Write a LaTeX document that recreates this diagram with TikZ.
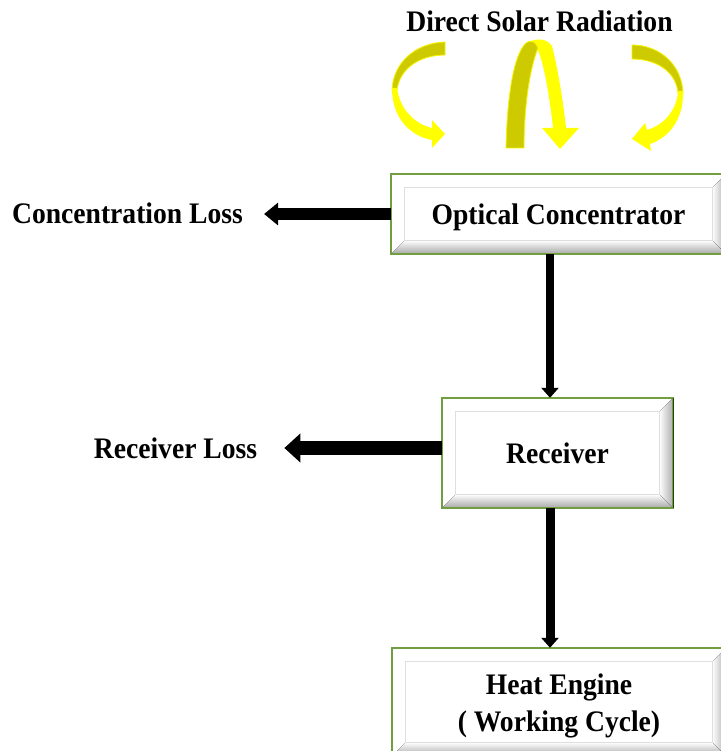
\documentclass[tikz,border=0pt]{standalone}
\usepackage{fontspec}
\setmainfont{Liberation Serif}
\usepackage{graphicx}
\usetikzlibrary{arrows.meta,calc,backgrounds}
\definecolor{boxgreen}{RGB}{114,158,66}
\definecolor{boxdark}{RGB}{40,60,25}
\definecolor{ydark}{RGB}{206,202,0}
\definecolor{ybright}{RGB}{255,255,0}
\newcommand\tstr[1]{\scalebox{1}[1.08]{#1}}
\newcommand\lowr[1]{\raisebox{-3.5pt}[\height][\depth]{#1}}
\newcommand\bevelframe[1]{%
  \fill[white] (#1.south west) rectangle (#1.north east);
  \fill[top color=white,bottom color=gray!70] (#1.south west) -- (#1.south east) -- ($(#1.south east)+(-14,-14)$) -- ($(#1.south west)+(14,-14)$) -- cycle;
  \fill[left color=white,right color=gray!65] (#1.south east) -- (#1.north east) -- ($(#1.north east)+(-14,14)$) -- ($(#1.south east)+(-14,-14)$) -- cycle;
  \draw[gray!25,line width=1pt] ($(#1.south west)+(14,-14)$) rectangle ($(#1.north east)+(-14,14)$);
  \draw[boxgreen,line width=2.5pt] (#1.south west) rectangle (#1.north east);
  \draw[boxdark,line width=1.5pt] ($(#1.south east)+(0.5,0)$) -- ($(#1.north east)+(0.5,0)$);
}
\begin{document}
\begin{tikzpicture}[x=1pt,y=-1pt,
  box/.style={inner sep=0pt,font=\bfseries\fontsize{27.6}{34}\selectfont,align=center},
  lbl/.style={inner sep=0pt,font=\bfseries\fontsize{27.6}{34}\selectfont},
  varr/.style={line width=8pt,-{Triangle[width=17pt,length=10pt]}},
  harr/.style={line width=12pt,-{Triangle[width=22pt,length=14pt]}},
  harrb/.style={line width=14pt,-{Triangle[width=28pt,length=16pt]}},
  yd/.style={fill=ydark,draw=ybright!80!ydark,line width=0.8pt},
  yb/.style={fill=ybright}]
\useasboundingbox (0,0) rectangle (720,751);

% boxes
\node[box,minimum width=335pt,minimum height=80pt] (oc) at (558.5,214) {\lowr{\tstr{Optical Concentrator}}};
\node[box,minimum width=231pt,minimum height=110pt] (rc) at (557.5,453) {\tstr{Receiver}};
\node[box,minimum width=334pt,minimum height=108pt] (he) at (559,702) {\lowr{\tstr{\begin{tabular}{@{}c@{}}Heat Engine\\( Working Cycle)\end{tabular}}}};
\begin{scope}[on background layer]
  \fill[white] (0,0) rectangle (720,751);
  \bevelframe{oc}
  \bevelframe{rc}
  \bevelframe{he}
\end{scope}

% labels
\node[lbl] (dsr) at (539.5,21) {\tstr{Direct Solar Radiation}};
\node[lbl] (cl) at (127.5,213) {\tstr{Concentration Loss}};
\node[lbl] (rl) at (175.5,448) {\tstr{Receiver Loss}};

% connectors
\coordinate (vx) at (550,0);
\draw[varr] (oc.south -| vx) -- (rc.north -| vx);
\draw[varr,line width=9pt] (rc.south -| vx) -- (he.north -| vx);
\draw[harr,shorten >=21pt] (oc.west) -- (oc.west -| cl.east);
\draw[harrb,shorten >=27pt] (rc.west |- rl.east) -- (rl.east);

% solar arrows: left
\fill[yd] (445,42) .. controls (415,43) and (393,63) .. (392,90) -- (397,90) .. controls (400,68) and (420,55) .. (445,55) -- cycle;
\fill[yb] (392,88) .. controls (392,118) and (410,136) .. (432,140) -- (432,148) -- (445,134) -- (432,120) -- (432,128) .. controls (415,124) and (400,110) .. (397,88) -- cycle;
% middle
\fill[yb] (528,42) .. controls (540,37) and (548,40) .. (552,46) .. controls (558,70) and (563,100) .. (566,128) -- (579,128) -- (560,149) -- (542,128) -- (553,128) .. controls (550,100) and (545,68) .. (538,50) -- cycle;
\fill[yd] (506,148) .. controls (507,100) and (513,55) .. (526,43) .. controls (531,39) and (536,42) .. (538,48) .. controls (530,68) and (524,105) .. (524,148) -- cycle;
% right
\fill[yd] (632,45) .. controls (660,45) and (682,65) .. (683,93) -- (678,93) .. controls (676,72) and (657,59) .. (632,59) -- cycle;
\fill[yb] (683,91) .. controls (684,120) and (668,138) .. (650,144) -- (651,151) -- (632,139) -- (645,123) -- (647,130) .. controls (664,125) and (677,110) .. (678,91) -- cycle;
\end{tikzpicture}
\end{document}
